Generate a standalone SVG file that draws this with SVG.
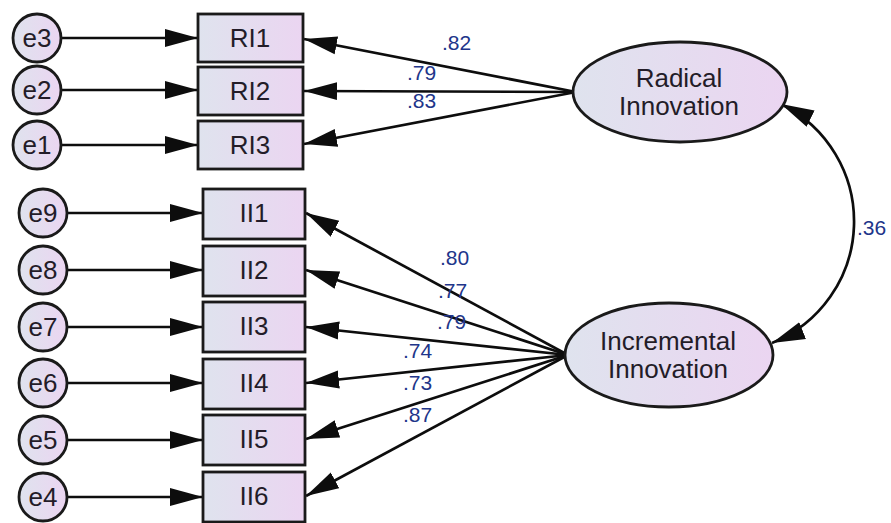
<svg xmlns="http://www.w3.org/2000/svg" width="891" height="523" viewBox="0 0 891 523">
  <defs>
    <linearGradient id="fillGrad" x1="0" y1="0" x2="1" y2="0">
      <stop offset="0" stop-color="#dfe3ee"/>
      <stop offset="1" stop-color="#ebd5f1"/>
    </linearGradient>
    <marker id="arrow" markerUnits="userSpaceOnUse" markerWidth="36" markerHeight="22" refX="33" refY="10" orient="auto-start-reverse">
      <path d="M0,1 L33,10 L0,19 z" fill="#0d0d0d"/>
    </marker>
    <style>
      .node { fill: url(#fillGrad); stroke: #1a1a1a; stroke-width: 2.8; }
      .lbl { font-family: "Liberation Sans", Arial, sans-serif; font-size: 26px; fill: #231c28; text-anchor: middle; }
      .num { font-family: "Liberation Sans", Arial, sans-serif; font-size: 21px; fill: #21358a; }
      .conn line, .conn path { stroke: #0d0d0d; stroke-width: 2.7; fill: none; marker-end: url(#arrow); }
    </style>
  </defs>
  <rect width="891" height="523" fill="#ffffff"/>

  <!-- connectors -->
  <g id="connectors" class="conn">
    <!-- error terms to indicators -->
    <line x1="61" y1="38" x2="198" y2="38"/>
    <line x1="61" y1="90" x2="198" y2="90"/>
    <line x1="61" y1="145" x2="198" y2="145"/>
    <line x1="67" y1="213" x2="203" y2="213"/>
    <line x1="67" y1="270" x2="203" y2="270"/>
    <line x1="67" y1="327" x2="203" y2="327"/>
    <line x1="67" y1="383" x2="203" y2="383"/>
    <line x1="67" y1="440" x2="203" y2="440"/>
    <line x1="67" y1="497" x2="203" y2="497"/>
    <!-- Radical Innovation loadings -->
    <line x1="576" y1="92" x2="304" y2="39"/>
    <line x1="576" y1="92" x2="304" y2="91"/>
    <line x1="576" y1="92" x2="304" y2="144"/>
    <!-- Incremental Innovation loadings -->
    <line x1="568" y1="355" x2="306" y2="213"/>
    <line x1="568" y1="355" x2="306" y2="270"/>
    <line x1="568" y1="355" x2="306" y2="327"/>
    <line x1="568" y1="355" x2="306" y2="383"/>
    <line x1="568" y1="355" x2="306" y2="439"/>
    <line x1="568" y1="355" x2="306" y2="496"/>
    <!-- covariance between factors -->
    <path d="M 781 104 A 131 131 0 0 1 772 343" marker-start="url(#arrow)"/>
  </g>

  <!-- error terms -->
  <g id="e3"><circle class="node" cx="37" cy="38" r="24"/><text class="lbl" x="37" y="47">e3</text></g>
  <g id="e2"><circle class="node" cx="37" cy="90" r="24"/><text class="lbl" x="37" y="99">e2</text></g>
  <g id="e1"><circle class="node" cx="37" cy="145" r="24"/><text class="lbl" x="37" y="154">e1</text></g>
  <g id="e9"><circle class="node" cx="43" cy="213" r="24"/><text class="lbl" x="43" y="222">e9</text></g>
  <g id="e8"><circle class="node" cx="43" cy="270" r="24"/><text class="lbl" x="43" y="279">e8</text></g>
  <g id="e7"><circle class="node" cx="43" cy="327" r="24"/><text class="lbl" x="43" y="336">e7</text></g>
  <g id="e6"><circle class="node" cx="43" cy="383" r="24"/><text class="lbl" x="43" y="392">e6</text></g>
  <g id="e5"><circle class="node" cx="43" cy="440" r="24"/><text class="lbl" x="43" y="449">e5</text></g>
  <g id="e4"><circle class="node" cx="43" cy="497" r="24"/><text class="lbl" x="43" y="506">e4</text></g>

  <!-- observed indicators -->
  <g id="RI1"><rect class="node" x="198" y="14" width="105" height="48"/><text class="lbl" x="250" y="47">RI1</text></g>
  <g id="RI2"><rect class="node" x="198" y="67" width="105" height="48"/><text class="lbl" x="250" y="100">RI2</text></g>
  <g id="RI3"><rect class="node" x="198" y="121" width="105" height="48"/><text class="lbl" x="250" y="154">RI3</text></g>
  <g id="II1"><rect class="node" x="203" y="189" width="102" height="50"/><text class="lbl" x="254" y="222">II1</text></g>
  <g id="II2"><rect class="node" x="203" y="246" width="102" height="50"/><text class="lbl" x="254" y="279">II2</text></g>
  <g id="II3"><rect class="node" x="203" y="302" width="102" height="50"/><text class="lbl" x="254" y="335">II3</text></g>
  <g id="II4"><rect class="node" x="203" y="359" width="102" height="50"/><text class="lbl" x="254" y="392">II4</text></g>
  <g id="II5"><rect class="node" x="203" y="415" width="102" height="50"/><text class="lbl" x="254" y="448">II5</text></g>
  <g id="II6"><rect class="node" x="203" y="472" width="102" height="50"/><text class="lbl" x="254" y="505">II6</text></g>

  <!-- latent factors -->
  <g id="RadicalInnovation">
    <ellipse class="node" cx="680" cy="92" rx="107" ry="50"/>
    <text class="lbl" x="679" y="87">Radical</text>
    <text class="lbl" x="679" y="115">Innovation</text>
  </g>
  <g id="IncrementalInnovation">
    <ellipse class="node" cx="669" cy="355" rx="104" ry="52"/>
    <text class="lbl" x="668" y="350">Incremental</text>
    <text class="lbl" x="668" y="378">Innovation</text>
  </g>

  <!-- coefficients -->
  <g id="labels">
    <text class="num" x="442" y="50">.82</text>
    <text class="num" x="407" y="80">.79</text>
    <text class="num" x="407" y="108">.83</text>
    <text class="num" x="440" y="265">.80</text>
    <text class="num" x="438" y="298">.77</text>
    <text class="num" x="437" y="329">.79</text>
    <text class="num" x="403" y="358">.74</text>
    <text class="num" x="403" y="390">.73</text>
    <text class="num" x="403" y="422">.87</text>
    <text class="num" x="857" y="235">.36</text>
  </g>
</svg>
